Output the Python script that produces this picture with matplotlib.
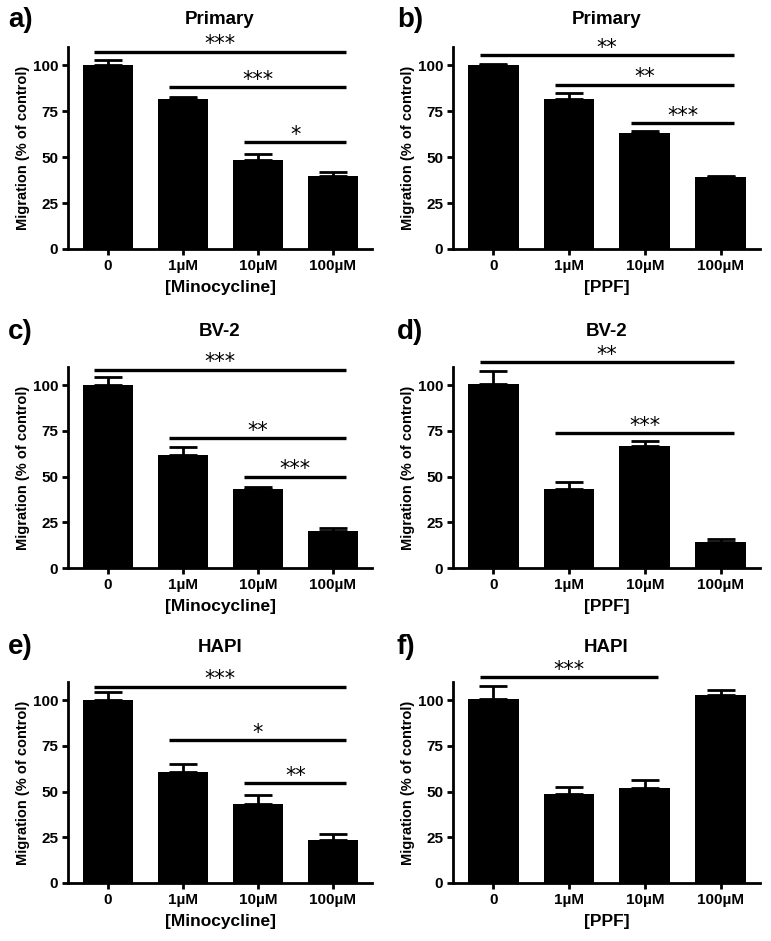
import matplotlib
matplotlib.use('Agg')
import matplotlib.pyplot as plt

plt.rcParams['font.family'] = ['Liberation Sans', 'DejaVu Sans']
plt.rcParams['font.weight'] = 'bold'

doses = ['0', '1\u00b5M', '10\u00b5M', '100\u00b5M']

# bar heights and SEM (upper only) per panel
a_vals = [100, 81.5, 48.5, 40]
a_err = [3, 1.5, 3, 2]
b_vals = [100, 81.5, 63, 39]
b_err = [1, 3.5, 1, 1]
c_vals = [100, 62, 43, 20.5]
c_err = [4.5, 4, 1.5, 1.5]
d_vals = [100.5, 43.5, 67, 14]
d_err = [7.5, 3.5, 2.5, 2]
e_vals = [100, 60.5, 43, 23.5]
e_err = [4.5, 4.5, 5, 3.5]
f_vals = [100.5, 48.5, 52, 103]
f_err = [7.5, 4, 4.5, 2.5]

# significance brackets: (from bar, to bar, height, label)
a_sig = [(0, 3, 107.5, '***'), (1, 3, 88, '***'), (2, 3, 58, '*')]
b_sig = [(0, 3, 105.5, '**'), (1, 3, 89.5, '**'), (2, 3, 68.5, '***')]
c_sig = [(0, 3, 108.5, '***'), (1, 3, 71, '**'), (2, 3, 50, '***')]
d_sig = [(0, 3, 112.5, '**'), (1, 3, 74, '***')]
e_sig = [(0, 3, 107.5, '***'), (1, 3, 78, '*'), (2, 3, 54.5, '**')]
f_sig = [(0, 2, 112.5, '***')]

panels = [
    ('a)', 'Primary', '[Minocycline]', a_vals, a_err, a_sig),
    ('b)', 'Primary', '[PPF]', b_vals, b_err, b_sig),
    ('c)', 'BV-2', '[Minocycline]', c_vals, c_err, c_sig),
    ('d)', 'BV-2', '[PPF]', d_vals, d_err, d_sig),
    ('e)', 'HAPI', '[Minocycline]', e_vals, e_err, e_sig),
    ('f)', 'HAPI', '[PPF]', f_vals, f_err, f_sig),
]

W, H = 771, 941
fig = plt.figure(figsize=(W / 100, H / 100), dpi=100)

lefts = [68, 453]
rights = [372, 760]
tops = [47, 367, 682]
bottoms = [249, 568, 883]

for i, (letter, title, xlab, vals, err, sig) in enumerate(panels):
    r, c = divmod(i, 2)
    l, rr, t, b = lefts[c], rights[c], tops[r], bottoms[r]
    ax = fig.add_axes([l / W, 1 - b / H, (rr - l) / W, (b - t) / H])
    x = list(range(len(vals)))
    ax.bar(x, vals, width=0.67, color='black')
    ax.errorbar(x, vals, yerr=[[0] * len(err), err], fmt='none', ecolor='black',
                elinewidth=2, capsize=10, capthick=2)
    ax.set_xlim(-0.53, 3.52)
    ax.set_ylim(0, 110)
    ax.set_yticks([0, 25, 50, 75, 100])
    ax.set_xticks(x)
    ax.set_xticklabels(doses)
    for s in ['top', 'right']:
        ax.spines[s].set_visible(False)
    for s in ['left', 'bottom']:
        ax.spines[s].set_linewidth(2)
    ax.tick_params(width=2, length=4, labelsize=11, pad=3)
    for lab in ax.get_xticklabels() + ax.get_yticklabels():
        lab.set_fontweight('bold')
    ax.set_ylabel('Migration (% of control)', fontsize=10.5, fontweight='bold', labelpad=2)
    ax.set_xlabel(xlab, fontsize=12.5, fontweight='bold', labelpad=5)

    for x0, x1, h, lab in sig:
        xs = [x0 - 0.18, x1 + 0.18]
        ax.plot(xs, [h, h], color='black', lw=2.4, clip_on=False, solid_capstyle='butt')
        ax.text((xs[0] + xs[1]) / 2, h - 1.5, lab, ha='center', va='bottom',
                fontsize=15, fontweight='normal', family='DejaVu Sans', clip_on=False)

    cx = (l + rr) / 2
    ty = t - 27 if r == 0 else t - 35
    fig.text(cx / W, 1 - ty / H, title, ha='center', va='center', fontsize=13.5,
             fontweight='bold')
    lx = 8 if c == 0 else 397
    fig.text(lx / W, 1 - ty / H, letter, ha='left', va='center', fontsize=20,
             fontweight='bold')

fig.savefig('out.png', dpi=100, facecolor='white')
